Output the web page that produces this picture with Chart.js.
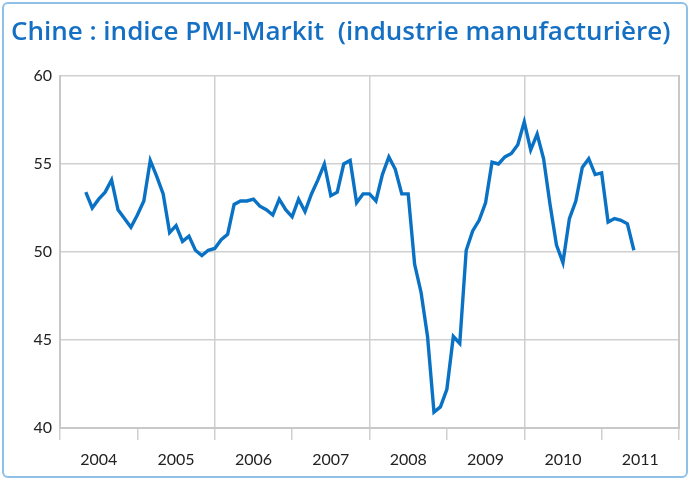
<!DOCTYPE html>
<html>
<head>
<meta charset="utf-8">
<script src="https://cdn.jsdelivr.net/npm/chart.js@4"></script>
<style>
  body { margin: 0; background: #fff; }
  #wrap { position: relative; width: 695px; height: 483px; }
  #frame { position: absolute; left: 2px; top: 2px; width: 686px; height: 476px; border: 2px solid #8fc0e8; border-radius: 6px; box-sizing: border-box; pointer-events: none; }
  #title { position: absolute; left: 11px; top: 12px; font-family: "Open Sans", sans-serif; font-size: 26px; font-weight: 600; color: #1570c4; white-space: pre; }
  canvas { position: absolute; left: 0; top: 0; }
</style>
</head>
<body>
<div id="wrap">
  <canvas id="chart" width="695" height="483"></canvas>
  <div id="title">Chine : indice PMI-Markit  (industrie manufacturière)</div>
  <div id="frame"></div>
</div>
<script>
// monthly PMI, April 2004 to May 2011
const firstMonth = 3; // months after Jan 2004
const pmi = [
  53.4, 52.5, 53.0, 53.4, 54.1, 52.4, 51.9, 51.4, 52.1,
  52.9, 55.2, 54.3, 53.3, 51.1, 51.5, 50.6, 50.9, 50.1, 49.8, 50.1, 50.2,
  50.7, 51.0, 52.7, 52.9, 52.9, 53.0, 52.6, 52.4, 52.1, 53.0, 52.4, 52.0,
  53.0, 52.3, 53.3, 54.1, 55.0, 53.2, 53.4, 55.0, 55.2, 52.8, 53.3, 53.3,
  52.9, 54.4, 55.4, 54.7, 53.3, 53.3, 49.3, 47.7, 45.2, 40.9, 41.2, 42.2,
  45.2, 44.8, 50.1, 51.2, 51.8, 52.8, 55.1, 55.0, 55.4, 55.6, 56.1, 57.4,
  55.8, 56.7, 55.3, 52.7, 50.4, 49.4, 51.9, 52.9, 54.8, 55.3, 54.4, 54.5,
  51.7, 51.9, 51.8, 51.6, 50.1
];
const years = ['2004', '2005', '2006', '2007', '2008', '2009', '2010', '2011'];
const yTicks = [40, 45, 50, 55, 60];

const points = pmi.map((v, i) => ({ x: firstMonth + i, y: v }));
const font = { family: 'Lato, "Open Sans", sans-serif', size: 16 };

new Chart(document.getElementById('chart'), {
  type: 'line',
  data: {
    datasets: [{
      data: points,
      borderColor: '#0a72c4',
      borderWidth: 3.4,
      pointRadius: 0,
      tension: 0,
      xAxisID: 'x'
    }]
  },
  options: {
    responsive: false,
    animation: false,
    layout: { padding: { top: 76, right: 16, left: 0, bottom: 0 } },
    plugins: { legend: { display: false }, tooltip: { enabled: false } },
    scales: {
      x2: {
        type: 'linear', min: -1, max: 95, position: 'bottom', weight: 0,
        afterBuildTicks: s => { s.ticks = years.concat(['']).map((y, i) => ({ value: i * 12 - 1 })); },
        ticks: { display: false },
        grid: {
          color: c => (c.index % 2 === 0 ? '#cfcfcf' : 'rgba(0,0,0,0)'),
          tickColor: '#cfcfcf', tickLength: 12, lineWidth: 1.5
        },
        border: { color: '#c8c8c8', width: 2 },
        afterFit: s => { s.height = 0; }
      },
      x: {
        type: 'linear', min: -1, max: 95, position: 'bottom', weight: 1,
        afterBuildTicks: s => { s.ticks = years.map((y, i) => ({ value: i * 12 + 5 })); },
        ticks: { callback: (v) => years[Math.round((v - 5) / 12)], color: '#222', font, padding: 14, maxRotation: 0, autoSkip: false },
        grid: { display: false },
        border: { display: false },
        afterFit: s => { s.height = 55; }
      },
      y: {
        min: 40, max: 60,
        afterBuildTicks: s => { s.ticks = yTicks.map(v => ({ value: v })); },
        ticks: { color: '#222', font, padding: 8 },
        grid: { color: '#d0d0d0', lineWidth: 1.5, drawTicks: false },
        border: { color: '#c8c8c8', width: 2 },
        afterFit: s => { s.width = 60; }
      },
      yr: {
        position: 'right', min: 40, max: 60,
        ticks: { display: false },
        grid: { display: false },
        border: { color: '#c8c8c8', width: 2 },
        afterFit: s => { s.width = 0; }
      }
    }
  }
});
</script>
</body>
</html>
